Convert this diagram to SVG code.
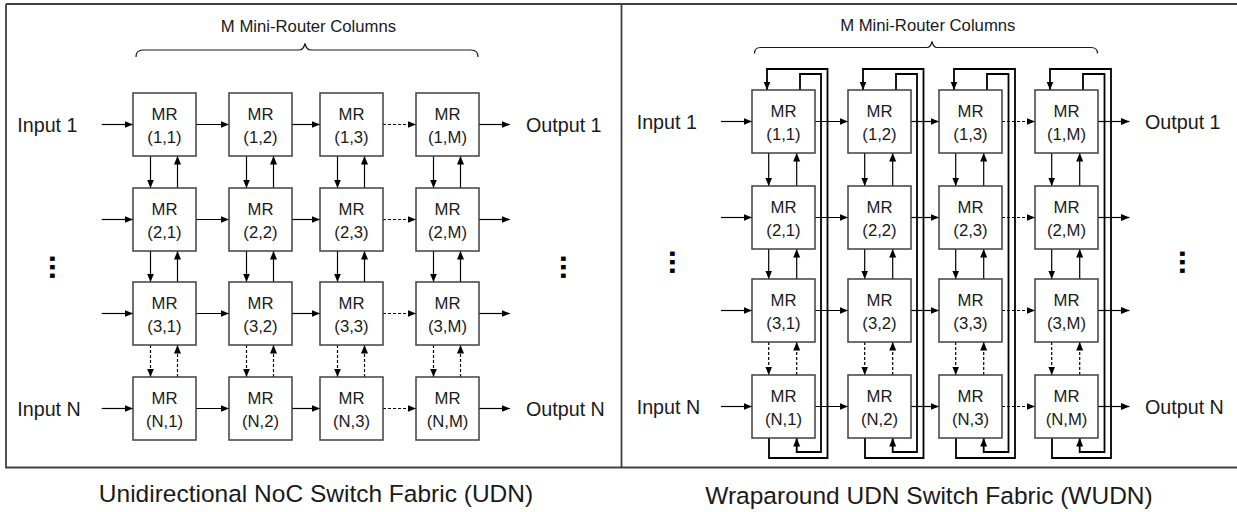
<svg xmlns="http://www.w3.org/2000/svg" width="1237" height="512" viewBox="0 0 1237 512">
  <defs>
    <marker id="arrow" markerUnits="userSpaceOnUse" markerWidth="9" markerHeight="8" refX="8.5" refY="3.5" orient="auto">
      <path d="M0,0 L8.5,3.5 L0,7 z" fill="#000"/>
    </marker>
    <style>
      .frame { fill: none; stroke: #404040; stroke-width: 1.8; }
      .mr rect { fill: #fff; stroke: #404040; stroke-width: 1.5; }
      .mr text { font-family: "Liberation Sans", Arial, sans-serif; font-size: 16.7px; fill: #1a1a1a; text-anchor: middle; }
      .lbl { font-family: "Liberation Sans", Arial, sans-serif; font-size: 19.7px; fill: #1a1a1a; }
      .hdr { font-family: "Liberation Sans", Arial, sans-serif; font-size: 16.7px; fill: #1a1a1a; text-anchor: middle; }
      .cap { font-family: "Liberation Sans", Arial, sans-serif; font-size: 24.5px; fill: #1a1a1a; text-anchor: middle; }
      .dots { font-family: "Liberation Sans", Arial, sans-serif; font-size: 30.5px; font-weight: bold; fill: #000; }
      .brace { fill: none; stroke: #1a1a1a; stroke-width: 1.2; }
      .link { fill: none; stroke: #000; stroke-width: 1.2; marker-end: url(#arrow); }
      .dash { stroke-dasharray: 3 2; }
      .wrap { fill: none; stroke: #000; stroke-width: 1.8; }
      .wrap.head { marker-end: url(#arrow); }
    </style>
  </defs>

  <rect width="1237" height="512" fill="#fff"/>

  <!-- outer frame with divider between the two fabrics -->
  <path class="frame" d="M6,4 H1237 M6,4 V467.5 H1237 M621.5,4 V467.5"/>

  <!-- ===== Unidirectional NoC (left) ===== -->
  <g id="udn-header">
    <text class="hdr" x="308.5" y="32.3">M Mini-Router Columns</text>
    <path class="brace" d="M136,57 Q136,50 143,50 H299 Q303.5,50 305,43.5 Q306.5,50 311,50 H471 Q478,50 478,57"/>
  </g>

  <g id="udn-io-labels">
    <text class="lbl" x="17.3" y="131.5">Input 1</text>
    <text class="lbl" x="17.3" y="415.5">Input N</text>
    <text class="lbl" x="526" y="131.5">Output 1</text>
    <text class="lbl" x="526" y="415.5">Output N</text>
    <text class="dots" transform="translate(50.3,254.6) rotate(90)">...</text>
    <text class="dots" transform="translate(560.5,254.6) rotate(90)">...</text>
  </g>

  <g id="udn-connectors">
    <!-- row links -->
    <path class="link" d="M101.7,124.5 H133"/>
    <path class="link" d="M196,124.5 H229"/>
    <path class="link" d="M292,124.5 H320"/>
    <path class="link dash" d="M383,124.5 H416"/>
    <path class="link" d="M479,124.5 H510"/>

    <path class="link" d="M101.7,219.5 H133"/>
    <path class="link" d="M196,219.5 H229"/>
    <path class="link" d="M292,219.5 H320"/>
    <path class="link dash" d="M383,219.5 H416"/>
    <path class="link" d="M479,219.5 H510"/>

    <path class="link" d="M101.7,313.5 H133"/>
    <path class="link" d="M196,313.5 H229"/>
    <path class="link" d="M292,313.5 H320"/>
    <path class="link dash" d="M383,313.5 H416"/>
    <path class="link" d="M479,313.5 H510"/>

    <path class="link" d="M101.7,408.5 H133"/>
    <path class="link" d="M196,408.5 H229"/>
    <path class="link" d="M292,408.5 H320"/>
    <path class="link dash" d="M383,408.5 H416"/>
    <path class="link" d="M479,408.5 H510"/>

    <!-- column links: row 1 <-> row 2 -->
    <path class="link" d="M150.5,156 V188"/>
    <path class="link" d="M177.5,188 V156"/>
    <path class="link" d="M246.5,156 V188"/>
    <path class="link" d="M273.5,188 V156"/>
    <path class="link" d="M337.5,156 V188"/>
    <path class="link" d="M364.5,188 V156"/>
    <path class="link" d="M433.5,156 V188"/>
    <path class="link" d="M460.5,188 V156"/>
    <!-- row 2 <-> row 3 -->
    <path class="link" d="M150.5,251 V282"/>
    <path class="link" d="M177.5,282 V251"/>
    <path class="link" d="M246.5,251 V282"/>
    <path class="link" d="M273.5,282 V251"/>
    <path class="link" d="M337.5,251 V282"/>
    <path class="link" d="M364.5,282 V251"/>
    <path class="link" d="M433.5,251 V282"/>
    <path class="link" d="M460.5,282 V251"/>
    <!-- row 3 <-> row N -->
    <path class="link dash" d="M150.5,345 V377"/>
    <path class="link dash" d="M177.5,377 V345"/>
    <path class="link dash" d="M246.5,345 V377"/>
    <path class="link dash" d="M273.5,377 V345"/>
    <path class="link dash" d="M337.5,345 V377"/>
    <path class="link dash" d="M364.5,377 V345"/>
    <path class="link dash" d="M433.5,345 V377"/>
    <path class="link dash" d="M460.5,377 V345"/>
  </g>

  <g id="udn-mr-1-1" class="mr"><rect x="133" y="93" width="63" height="63"/><text x="164.5" y="120">MR</text><text x="164.5" y="143">(1,1)</text></g>
  <g id="udn-mr-1-2" class="mr"><rect x="229" y="93" width="63" height="63"/><text x="260.5" y="120">MR</text><text x="260.5" y="143">(1,2)</text></g>
  <g id="udn-mr-1-3" class="mr"><rect x="320" y="93" width="63" height="63"/><text x="351.5" y="120">MR</text><text x="351.5" y="143">(1,3)</text></g>
  <g id="udn-mr-1-M" class="mr"><rect x="416" y="93" width="63" height="63"/><text x="447.5" y="120">MR</text><text x="447.5" y="143">(1,M)</text></g>

  <g id="udn-mr-2-1" class="mr"><rect x="133" y="188" width="63" height="63"/><text x="164.5" y="215">MR</text><text x="164.5" y="238">(2,1)</text></g>
  <g id="udn-mr-2-2" class="mr"><rect x="229" y="188" width="63" height="63"/><text x="260.5" y="215">MR</text><text x="260.5" y="238">(2,2)</text></g>
  <g id="udn-mr-2-3" class="mr"><rect x="320" y="188" width="63" height="63"/><text x="351.5" y="215">MR</text><text x="351.5" y="238">(2,3)</text></g>
  <g id="udn-mr-2-M" class="mr"><rect x="416" y="188" width="63" height="63"/><text x="447.5" y="215">MR</text><text x="447.5" y="238">(2,M)</text></g>

  <g id="udn-mr-3-1" class="mr"><rect x="133" y="282" width="63" height="63"/><text x="164.5" y="309">MR</text><text x="164.5" y="332">(3,1)</text></g>
  <g id="udn-mr-3-2" class="mr"><rect x="229" y="282" width="63" height="63"/><text x="260.5" y="309">MR</text><text x="260.5" y="332">(3,2)</text></g>
  <g id="udn-mr-3-3" class="mr"><rect x="320" y="282" width="63" height="63"/><text x="351.5" y="309">MR</text><text x="351.5" y="332">(3,3)</text></g>
  <g id="udn-mr-3-M" class="mr"><rect x="416" y="282" width="63" height="63"/><text x="447.5" y="309">MR</text><text x="447.5" y="332">(3,M)</text></g>

  <g id="udn-mr-N-1" class="mr"><rect x="133" y="377" width="63" height="63"/><text x="164.5" y="404">MR</text><text x="164.5" y="427">(N,1)</text></g>
  <g id="udn-mr-N-2" class="mr"><rect x="229" y="377" width="63" height="63"/><text x="260.5" y="404">MR</text><text x="260.5" y="427">(N,2)</text></g>
  <g id="udn-mr-N-3" class="mr"><rect x="320" y="377" width="63" height="63"/><text x="351.5" y="404">MR</text><text x="351.5" y="427">(N,3)</text></g>
  <g id="udn-mr-N-M" class="mr"><rect x="416" y="377" width="63" height="63"/><text x="447.5" y="404">MR</text><text x="447.5" y="427">(N,M)</text></g>

  <text class="cap" x="316" y="502">Unidirectional NoC Switch Fabric (UDN)</text>

  <!-- ===== Wraparound UDN (right) ===== -->
  <g id="wudn-header">
    <text class="hdr" x="927.8" y="30.5">M Mini-Router Columns</text>
    <path class="brace" d="M754.5,53.5 Q754.5,47.5 760.5,47.5 H927 Q930.5,47.5 932,41.5 Q933.5,47.5 937,47.5 H1091 Q1097.5,47.5 1097.5,53.5"/>
  </g>

  <g id="wudn-io-labels">
    <text class="lbl" x="636.7" y="128.5">Input 1</text>
    <text class="lbl" x="636.7" y="413.5">Input N</text>
    <text class="lbl" x="1145" y="128.5">Output 1</text>
    <text class="lbl" x="1145" y="413.5">Output N</text>
    <text class="dots" transform="translate(669.5,249.6) rotate(90)">...</text>
    <text class="dots" transform="translate(1179.5,249.6) rotate(90)">...</text>
  </g>

  <g id="wudn-connectors">
    <!-- wraparound loops: row N bottom -> row 1 top (outer), row 1 top -> row N bottom (inner) -->
    <path class="wrap head" d="M769,438 V458 H827.5 V69 H767 V90"/>
    <path class="wrap head" d="M800,90 V74 H821 V452 H796.7 V438"/>
    <path class="wrap head" d="M865,438 V458 H923.5 V69 H863 V90"/>
    <path class="wrap head" d="M896,90 V74 H917 V452 H892.7 V438"/>
    <path class="wrap head" d="M956,438 V458 H1015 V69 H954 V90"/>
    <path class="wrap head" d="M987,90 V74 H1008.5 V452 H983.7 V438"/>
    <path class="wrap head" d="M1052,438 V458 H1111 V69 H1050 V90"/>
    <path class="wrap head" d="M1083,90 V74 H1104.5 V452 H1079.7 V438"/>

    <!-- row links -->
    <path class="link" d="M721,121.5 H752"/>
    <path class="link" d="M815,121.5 H848"/>
    <path class="link" d="M911,121.5 H939"/>
    <path class="link dash" d="M1002,121.5 H1035"/>
    <path class="link" d="M1098,121.5 H1129.5"/>

    <path class="link" d="M721,217.5 H752"/>
    <path class="link" d="M815,217.5 H848"/>
    <path class="link" d="M911,217.5 H939"/>
    <path class="link dash" d="M1002,217.5 H1035"/>
    <path class="link" d="M1098,217.5 H1129.5"/>

    <path class="link" d="M721,310.5 H752"/>
    <path class="link" d="M815,310.5 H848"/>
    <path class="link" d="M911,310.5 H939"/>
    <path class="link dash" d="M1002,310.5 H1035"/>
    <path class="link" d="M1098,310.5 H1129.5"/>

    <path class="link" d="M721,406.5 H752"/>
    <path class="link" d="M815,406.5 H848"/>
    <path class="link" d="M911,406.5 H939"/>
    <path class="link dash" d="M1002,406.5 H1035"/>
    <path class="link" d="M1098,406.5 H1129.5"/>

    <!-- column links: row 1 <-> row 2 -->
    <path class="link" d="M768.7,153 V186"/>
    <path class="link" d="M796.7,186 V153"/>
    <path class="link" d="M864.7,153 V186"/>
    <path class="link" d="M892.7,186 V153"/>
    <path class="link" d="M955.7,153 V186"/>
    <path class="link" d="M983.7,186 V153"/>
    <path class="link" d="M1051.7,153 V186"/>
    <path class="link" d="M1079.7,186 V153"/>
    <!-- row 2 <-> row 3 -->
    <path class="link" d="M768.7,249 V279"/>
    <path class="link" d="M796.7,279 V249"/>
    <path class="link" d="M864.7,249 V279"/>
    <path class="link" d="M892.7,279 V249"/>
    <path class="link" d="M955.7,249 V279"/>
    <path class="link" d="M983.7,279 V249"/>
    <path class="link" d="M1051.7,249 V279"/>
    <path class="link" d="M1079.7,279 V249"/>
    <!-- row 3 <-> row N -->
    <path class="link dash" d="M768.7,342 V375"/>
    <path class="link dash" d="M796.7,375 V342"/>
    <path class="link dash" d="M864.7,342 V375"/>
    <path class="link dash" d="M892.7,375 V342"/>
    <path class="link dash" d="M955.7,342 V375"/>
    <path class="link dash" d="M983.7,375 V342"/>
    <path class="link dash" d="M1051.7,342 V375"/>
    <path class="link dash" d="M1079.7,375 V342"/>
  </g>

  <g id="wudn-mr-1-1" class="mr"><rect x="752" y="90" width="63" height="63"/><text x="783.5" y="117">MR</text><text x="783.5" y="140">(1,1)</text></g>
  <g id="wudn-mr-1-2" class="mr"><rect x="848" y="90" width="63" height="63"/><text x="879.5" y="117">MR</text><text x="879.5" y="140">(1,2)</text></g>
  <g id="wudn-mr-1-3" class="mr"><rect x="939" y="90" width="63" height="63"/><text x="970.5" y="117">MR</text><text x="970.5" y="140">(1,3)</text></g>
  <g id="wudn-mr-1-M" class="mr"><rect x="1035" y="90" width="63" height="63"/><text x="1066.5" y="117">MR</text><text x="1066.5" y="140">(1,M)</text></g>

  <g id="wudn-mr-2-1" class="mr"><rect x="752" y="186" width="63" height="63"/><text x="783.5" y="213">MR</text><text x="783.5" y="236">(2,1)</text></g>
  <g id="wudn-mr-2-2" class="mr"><rect x="848" y="186" width="63" height="63"/><text x="879.5" y="213">MR</text><text x="879.5" y="236">(2,2)</text></g>
  <g id="wudn-mr-2-3" class="mr"><rect x="939" y="186" width="63" height="63"/><text x="970.5" y="213">MR</text><text x="970.5" y="236">(2,3)</text></g>
  <g id="wudn-mr-2-M" class="mr"><rect x="1035" y="186" width="63" height="63"/><text x="1066.5" y="213">MR</text><text x="1066.5" y="236">(2,M)</text></g>

  <g id="wudn-mr-3-1" class="mr"><rect x="752" y="279" width="63" height="63"/><text x="783.5" y="306">MR</text><text x="783.5" y="329">(3,1)</text></g>
  <g id="wudn-mr-3-2" class="mr"><rect x="848" y="279" width="63" height="63"/><text x="879.5" y="306">MR</text><text x="879.5" y="329">(3,2)</text></g>
  <g id="wudn-mr-3-3" class="mr"><rect x="939" y="279" width="63" height="63"/><text x="970.5" y="306">MR</text><text x="970.5" y="329">(3,3)</text></g>
  <g id="wudn-mr-3-M" class="mr"><rect x="1035" y="279" width="63" height="63"/><text x="1066.5" y="306">MR</text><text x="1066.5" y="329">(3,M)</text></g>

  <g id="wudn-mr-N-1" class="mr"><rect x="752" y="375" width="63" height="63"/><text x="783.5" y="402">MR</text><text x="783.5" y="425">(N,1)</text></g>
  <g id="wudn-mr-N-2" class="mr"><rect x="848" y="375" width="63" height="63"/><text x="879.5" y="402">MR</text><text x="879.5" y="425">(N,2)</text></g>
  <g id="wudn-mr-N-3" class="mr"><rect x="939" y="375" width="63" height="63"/><text x="970.5" y="402">MR</text><text x="970.5" y="425">(N,3)</text></g>
  <g id="wudn-mr-N-M" class="mr"><rect x="1035" y="375" width="63" height="63"/><text x="1066.5" y="402">MR</text><text x="1066.5" y="425">(N,M)</text></g>

  <text class="cap" x="929" y="504">Wraparound UDN Switch Fabric (WUDN)</text>
</svg>
